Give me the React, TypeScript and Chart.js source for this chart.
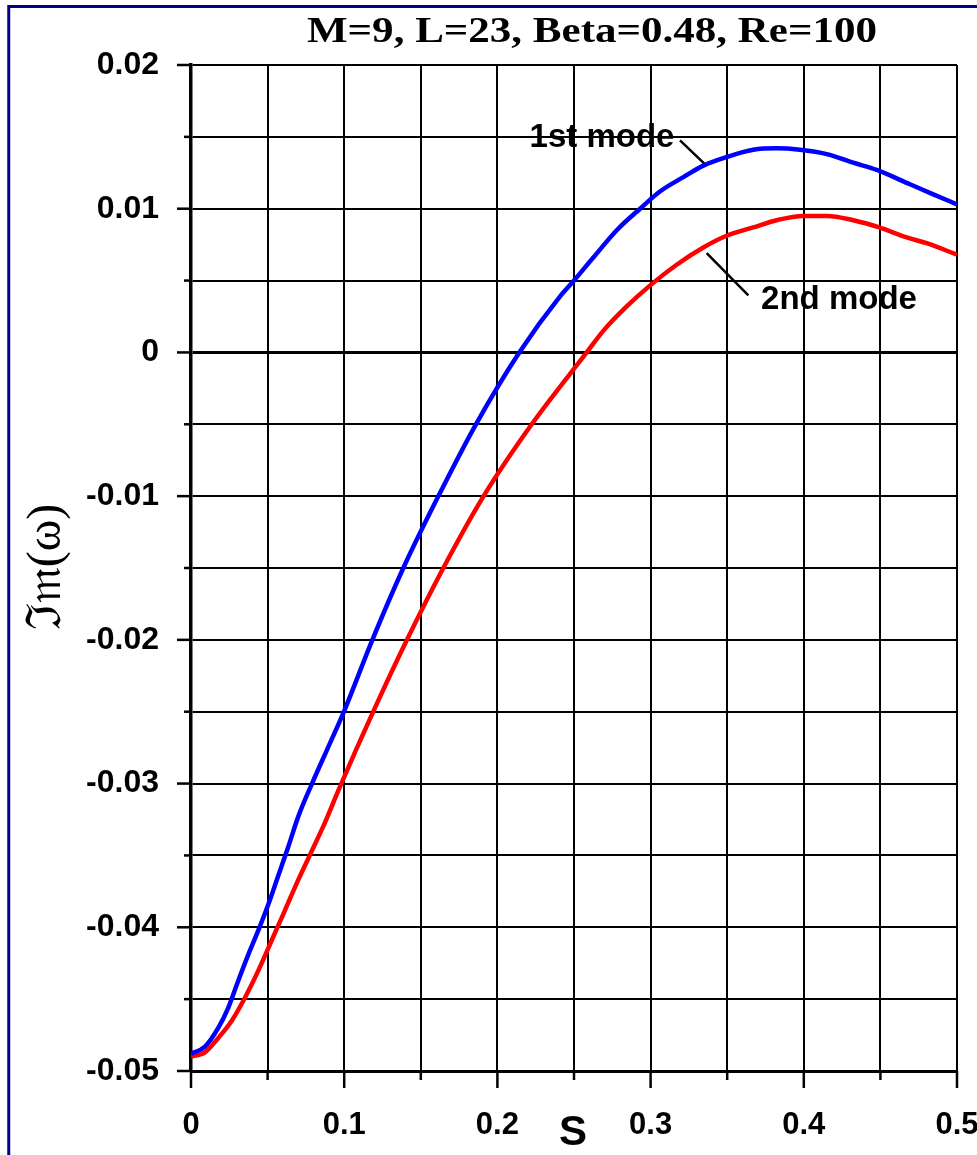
import React, { useEffect, useRef } from "react";
import { Chart, registerables } from "chart.js";

Chart.register(...registerables);

// Growth rate Im(ω) against S for the first two modes
const mode1S = [0, 0.0091, 0.0178, 0.0243, 0.0309, 0.0374, 0.044, 0.0505, 0.057, 0.0635, 0.07, 0.079, 0.089, 0.0994, 0.118, 0.1386, 0.161, 0.186, 0.2143, 0.2409, 0.25, 0.2626, 0.2779, 0.2931, 0.3061, 0.3214, 0.3344, 0.3497, 0.367, 0.3823, 0.3975, 0.415, 0.4323, 0.4476, 0.4693, 0.4845, 0.5];
const mode1Im = [-0.0488, -0.0483, -0.047, -0.0456, -0.0437, -0.0419, -0.0402, -0.0384, -0.0364, -0.0344, -0.0323, -0.03, -0.0276, -0.0251, -0.0201, -0.015, -0.0101, -0.005, 0, 0.0039, 0.005, 0.0066, 0.0085, 0.01, 0.0112, 0.0122, 0.013, 0.0136, 0.0141, 0.0142, 0.0141, 0.0138, 0.0132, 0.0127, 0.0117, 0.011, 0.0103];

const mode2S = [0, 0.0091, 0.0178, 0.0266, 0.0352, 0.044, 0.0527, 0.0614, 0.07, 0.0788, 0.0875, 0.0965, 0.1185, 0.1405, 0.1647, 0.1904, 0.2224, 0.2583, 0.2691, 0.2844, 0.3001, 0.317, 0.3344, 0.3492, 0.367, 0.3823, 0.3993, 0.415, 0.4323, 0.4493, 0.4672, 0.4802, 0.5];
const mode2Im = [-0.049, -0.0487, -0.0477, -0.0465, -0.0449, -0.043, -0.0409, -0.0388, -0.0367, -0.0347, -0.0327, -0.0304, -0.0251, -0.0201, -0.015, -0.0101, -0.005, 0, 0.0015, 0.0032, 0.0047, 0.0061, 0.0073, 0.0081, 0.0087, 0.0092, 0.0095, 0.0095, 0.0092, 0.0087, 0.008, 0.0076, 0.0068];

const titleText = "M=9, L=23, Beta=0.48, Re=100";
const xTitle = "S";
const yTitle = "ℑ𝔪(ω)";
const modeLabels = ["1st mode", "2nd mode"];

const W = 977;
const H = 1155;
const SANS = "'Liberation Sans', Arial, sans-serif";
const SERIF = "'Liberation Serif', 'Times New Roman', 'DejaVu Serif', serif";

const toPoints = (xs: number[], ys: number[]) => xs.map((x, i) => ({ x, y: ys[i] }));

// draw text centred at (cx, baseline) stretched horizontally to a given width
function fillStretched(ctx: CanvasRenderingContext2D, text: string, cx: number, y: number, width: number) {
  const w = ctx.measureText(text).width;
  const k = width / w;
  ctx.save();
  ctx.translate(cx, y);
  ctx.scale(k, 1);
  ctx.textAlign = "center";
  ctx.fillText(text, 0, 0);
  ctx.restore();
}

const decorations = {
  id: "decorations",
  beforeDraw(chart: any) {
    const { ctx } = chart;
    ctx.save();
    ctx.fillStyle = "#fff";
    ctx.fillRect(0, 0, W, H);
    ctx.restore();
  },
  afterDraw(chart: any) {
    const { ctx, chartArea, scales } = chart;
    const xs = scales.x;
    const ys = scales.y;
    ctx.save();

    // outer frame
    ctx.strokeStyle = "#00008B";
    ctx.lineWidth = 3;
    ctx.strokeRect(8.75, 6.5, W + 20, H + 20);

    // tick marks
    ctx.strokeStyle = "#000";
    ctx.lineWidth = 2.5;
    for (let k = -10; k <= 4; k++) {
      const v = k * 0.005;
      const py = ys.getPixelForValue(v);
      const len = k % 2 === 0 ? 14 : 7;
      ctx.beginPath();
      ctx.moveTo(chartArea.left - len, py);
      ctx.lineTo(chartArea.left, py);
      ctx.stroke();
    }
    for (let k = 0; k <= 10; k++) {
      const v = k * 0.05;
      const px = xs.getPixelForValue(v);
      const len = k % 2 === 0 ? 17 : 9;
      ctx.beginPath();
      ctx.moveTo(px, chartArea.bottom);
      ctx.lineTo(px, chartArea.bottom + len);
      ctx.stroke();
    }

    // title
    ctx.fillStyle = "#000";
    ctx.font = `bold 35px ${SERIF}`;
    ctx.textBaseline = "alphabetic";
    fillStretched(ctx, titleText, 592, 42, 570);

    // axis titles
    ctx.textAlign = "center";
    ctx.font = `bold 42px ${SANS}`;
    ctx.textBaseline = "middle";
    ctx.fillText(xTitle, 573, 1133);

    ctx.save();
    ctx.translate(47, 567);
    ctx.rotate(-Math.PI / 2);
    ctx.font = `48px ${SERIF}`;
    ctx.fillText(yTitle, 0, 0);
    ctx.restore();

    // mode labels with pointer lines
    ctx.textAlign = "center";
    ctx.font = `bold 33px ${SANS}`;
    ctx.textBaseline = "middle";
    ctx.fillText(modeLabels[0], xs.getPixelForValue(0.2683), ys.getPixelForValue(0.01496));
    ctx.fillText(modeLabels[1], xs.getPixelForValue(0.423), ys.getPixelForValue(0.00362));
    ctx.lineWidth = 2.5;
    ctx.beginPath();
    ctx.moveTo(xs.getPixelForValue(0.3192), ys.getPixelForValue(0.01475));
    ctx.lineTo(xs.getPixelForValue(0.3349), ys.getPixelForValue(0.01315));
    ctx.moveTo(xs.getPixelForValue(0.3366), ys.getPixelForValue(0.00691));
    ctx.lineTo(xs.getPixelForValue(0.3638), ys.getPixelForValue(0.00397));
    ctx.stroke();

    ctx.restore();
  },
};

export default function App() {
  const ref = useRef<HTMLCanvasElement | null>(null);

  useEffect(() => {
    if (!ref.current) return;
    const chart = new Chart(ref.current, {
      type: "scatter",
      data: {
        datasets: [
          {
            label: modeLabels[0],
            data: toPoints(mode1S, mode1Im),
            showLine: true,
            borderColor: "#0000FF",
            backgroundColor: "#0000FF",
            borderWidth: 4.5,
            pointRadius: 0,
            cubicInterpolationMode: "monotone",
          },
          {
            label: modeLabels[1],
            data: toPoints(mode2S, mode2Im),
            showLine: true,
            borderColor: "#FF0000",
            backgroundColor: "#FF0000",
            borderWidth: 4.5,
            pointRadius: 0,
            cubicInterpolationMode: "monotone",
          },
        ],
      },
      options: {
        animation: false,
        responsive: false,
        devicePixelRatio: 1,
        layout: { padding: { left: 0, top: 65, right: 20, bottom: 0 } },
        plugins: {
          legend: { display: false },
          tooltip: { enabled: false },
          title: { display: false },
        },
        scales: {
          x: {
            type: "linear",
            min: 0,
            max: 0.5,
            afterFit(scale: any) {
              scale.height = 84;
              scale.paddingLeft = 0;
              scale.paddingRight = 0;
            },
            border: { display: true, color: "#000", width: 3 },
            grid: { color: "#000", lineWidth: 2, drawTicks: false },
            ticks: {
              stepSize: 0.05,
              autoSkip: false,
              maxRotation: 0,
              padding: 36,
              color: "#000",
              font: { family: SANS, size: 31, weight: "bold" },
              callback: (v: any) => {
                const n = Math.round(Number(v) * 100);
                return n % 10 === 0 ? String(n / 100) : "";
              },
            },
          },
          y: {
            type: "linear",
            min: -0.05,
            max: 0.02,
            afterFit(scale: any) {
              scale.width = 191;
              scale.paddingTop = 0;
              scale.paddingBottom = 0;
            },
            border: { display: true, color: "#000", width: 3.5 },
            grid: {
              color: "#000",
              lineWidth: (c: any) => (c.tick && Math.abs(c.tick.value) < 1e-9 ? 3 : 2),
              drawTicks: false,
            },
            ticks: {
              stepSize: 0.005,
              autoSkip: false,
              padding: 32,
              color: "#000",
              font: { family: SANS, size: 32, weight: "bold" },
              callback: (v: any) => {
                const n = Math.round(Number(v) * 1000);
                return n % 10 === 0 ? String(Math.round(n / 10) / 100) : "";
              },
            },
          },
        },
      },
      plugins: [decorations],
    });
    return () => chart.destroy();
  }, []);

  return (
    <div style={{ position: "absolute", left: 0, top: 0, width: W, height: H }}>
      <canvas ref={ref} width={W} height={H} style={{ display: "block", width: W, height: H }} />
    </div>
  );
}
